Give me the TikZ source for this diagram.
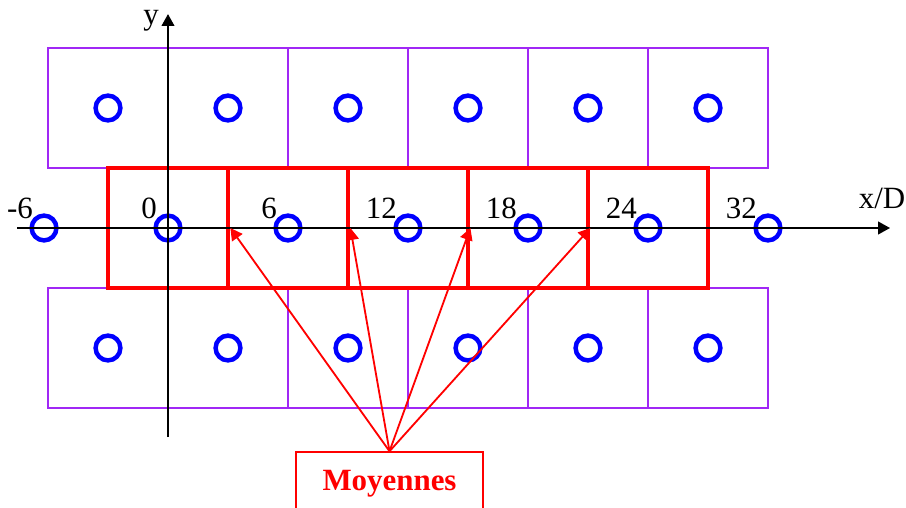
\documentclass[tikz,border=0pt]{standalone}
\usepackage{fontspec}
\setmainfont{Liberation Serif}
\usepackage{xcolor}
\usetikzlibrary{arrows.meta,positioning}

\definecolor{cellpurple}{RGB}{160,40,245}

\tikzset{
  cell/.style={draw=cellpurple, line width=1.3pt, minimum width=3cm, minimum height=3cm, inner sep=0pt},
  mean/.style={draw=red, line width=3.4pt, minimum width=3cm, minimum height=3cm, inner sep=0pt},
  hole/.style={circle, draw=blue, line width=3.2pt, minimum size=0.62cm, inner sep=0pt},
  tick/.style={font=\fontsize{22}{24}\selectfont, inner sep=0pt},
}

\begin{document}
\begin{tikzpicture}[x=3cm, y=3cm, >={Triangle[length=8.5pt,width=9pt]}]
\clip (-1.4,-2.3333) rectangle (6.15,1.9);

% cells
\foreach \i in {0,...,5} {
  \node[cell] (t\i) at (\i-0.5,1) {};
  \node[cell] (b\i) at (\i-0.5,-1) {};
}
\foreach \i in {1,...,5}
  \node[mean] (r\i) at (\i-1,0) {};

% holes
\foreach \i in {0,...,5} {
  \node[hole] (ht\i) at (\i-0.5,1) {};
  \node[hole] (hb\i) at (\i-0.5,-1) {};
}
\foreach \x/\lab [count=\n] in {-1.033/-6,0/0,1/6,2/12,3/18,4/24,5/32} {
  \node[hole] (m\n) at (\x,0) {};
  \node[tick, above left=6.4pt and 7.8pt of m\n.center] (l\n) {\lab};
}

% axes
\coordinate (xa) at (-1.258,0);
\coordinate (xb) at (6.017,0);
\coordinate (ya) at (0,-1.742);
\coordinate (yb) at (0,1.783);
\draw[->, line width=1.4pt] (xa) -- (xb);
\draw[->, line width=1.4pt] (ya) -- (yb);
\node[tick] (xl) at (5.95,0.25) {x/D};
\node[tick] (yl) at (-0.14,1.73) {y};

% means
\node[draw=red, line width=1pt, minimum width=4.675cm, minimum height=1.6cm,
  text=red, font=\fontsize{22}{24}\selectfont\bfseries] (moy) at (1.846,-2.133) {Moyennes};
\foreach \i in {1,...,4}
  \draw[->, red, line width=1.3pt] (moy.north) -- (r\i.east);
\end{tikzpicture}
\end{document}
